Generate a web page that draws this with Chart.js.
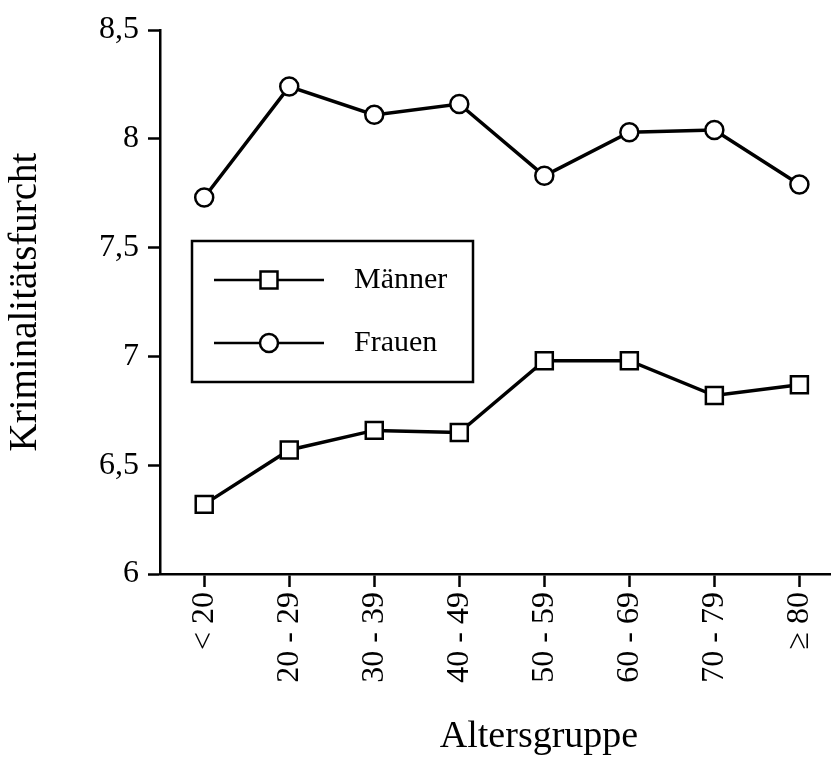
<!DOCTYPE html>
<html>
<head>
<meta charset="utf-8">
<script src="https://cdn.jsdelivr.net/npm/chart.js@4.4.0/dist/chart.umd.min.js"></script>
<style>
    html, body { margin: 0; padding: 0; background: #fff; }
    #wrap { width: 833px; height: 757px; }
</style>
</head>
<body>
<div id="wrap"><canvas id="chart" width="833" height="757"></canvas></div>
<script>
// Kriminalitätsfurcht nach Altersgruppe
const ageGroups = ['< 20', '20 - 29', '30 - 39', '40 - 49', '50 - 59', '60 - 69', '70 - 79', '≥ 80'];
const maenner = [6.32, 6.57, 6.66, 6.65, 6.98, 6.98, 6.82, 6.87];
const frauen = [7.73, 8.24, 8.11, 8.16, 7.83, 8.03, 8.04, 7.79];
const yTicks = [6, 6.5, 7, 7.5, 8, 8.5];
const seriesNames = ['Männer', 'Frauen'];
const xTitle = 'Altersgruppe';
const yTitle = 'Kriminalitätsfurcht';

const serif = 'Liberation Serif';

const toPoints = values => values.map((v, i) => ({ x: i, y: v }));

// legend drawn as a framed box inside the plot area, plus the x title
const boxLegend = {
    id: 'boxLegend',
    afterDraw(chart) {
        const ctx = chart.ctx;
        const area = chart.chartArea;
        const left = area.left + 32;
        const top = area.top + 211;
        const width = 281;
        const height = 141;

        ctx.save();
        ctx.strokeStyle = '#000';
        ctx.lineWidth = 2.5;
        ctx.strokeRect(left, top, width, height);

        chart.data.datasets.forEach((ds, i) => {
            const y = top + 39 + i * 63;
            ctx.beginPath();
            ctx.lineWidth = 2.5;
            ctx.moveTo(left + 22, y);
            ctx.lineTo(left + 132, y);
            ctx.stroke();

            ctx.fillStyle = '#fff';
            ctx.lineWidth = 2.5;
            Chart.helpers.drawPoint(ctx, {
                pointStyle: ds.pointStyle,
                radius: ds.pointRadius,
                rotation: 0,
                borderWidth: 2.5
            }, left + 77, y);

            ctx.fillStyle = '#000';
            ctx.font = '30px "' + serif + '"';
            ctx.textAlign = 'left';
            ctx.textBaseline = 'middle';
            ctx.fillText(ds.label, left + 162, y);
        });

        // x axis title sits a bit right of the plot centre in the original
        ctx.fillStyle = '#000';
        ctx.font = '38px "' + serif + '"';
        ctx.textAlign = 'center';
        ctx.textBaseline = 'alphabetic';
        ctx.fillText(xTitle, 539, 747);
        ctx.restore();
    }
};

const chart = new Chart(document.getElementById('chart'), {
    type: 'line',
    data: {
        datasets: [
            {
                label: seriesNames[0],
                data: toPoints(maenner),
                borderColor: '#000',
                borderWidth: 3.5,
                backgroundColor: '#fff',
                pointStyle: 'rect',
                pointRadius: 12,
                pointBorderWidth: 2.5,
                pointBackgroundColor: '#fff',
                pointBorderColor: '#000',
                tension: 0
            },
            {
                label: seriesNames[1],
                data: toPoints(frauen),
                borderColor: '#000',
                borderWidth: 3.5,
                backgroundColor: '#fff',
                pointStyle: 'circle',
                pointRadius: 9,
                pointBorderWidth: 2.5,
                pointBackgroundColor: '#fff',
                pointBorderColor: '#000',
                tension: 0
            }
        ]
    },
    options: {
        responsive: false,
        animation: false,
        layout: { autoPadding: false, padding: { top: 30, right: 3, left: 0, bottom: 0 } },
        plugins: {
            legend: { display: false },
            tooltip: { enabled: false }
        },
        scales: {
            x: {
                type: 'linear',
                min: -0.52,
                max: 7.36,
                afterFit: scale => {
                    scale.height = 183;
                    scale.paddingLeft = 0;
                    scale.paddingRight = 0;
                },
                afterBuildTicks: scale => {
                    scale.ticks = ageGroups.map((g, i) => ({ value: i }));
                },
                border: { display: true, color: '#000', width: 2.5 },
                grid: {
                    drawOnChartArea: false,
                    drawTicks: true,
                    tickLength: 13,
                    tickWidth: 2.5,
                    tickColor: '#000'
                },
                ticks: {
                    autoSkip: false,
                    minRotation: 90,
                    maxRotation: 90,
                    padding: 5,
                    color: '#000',
                    font: { family: serif, size: 32 },
                    callback: value => ageGroups[value] !== undefined ? ageGroups[value] : ''
                }
            },
            y: {
                min: 6,
                max: 8.5,
                afterFit: scale => { scale.width = 160; },
                afterBuildTicks: scale => {
                    scale.ticks = yTicks.map(v => ({ value: v }));
                },
                border: { display: true, color: '#000', width: 2.5 },
                grid: {
                    drawOnChartArea: false,
                    drawTicks: true,
                    tickLength: 12,
                    tickWidth: 2.5,
                    tickColor: '#000'
                },
                ticks: {
                    padding: 9,
                    color: '#000',
                    font: { family: serif, size: 32 },
                    callback: value => String(value).replace('.', ',')
                },
                title: {
                    display: true,
                    text: yTitle,
                    color: '#000',
                    font: { family: serif, size: 39 },
                    padding: { top: 2, bottom: 0 }
                }
            }
        }
    },
    plugins: [boxLegend]
});
</script>
</body>
</html>
